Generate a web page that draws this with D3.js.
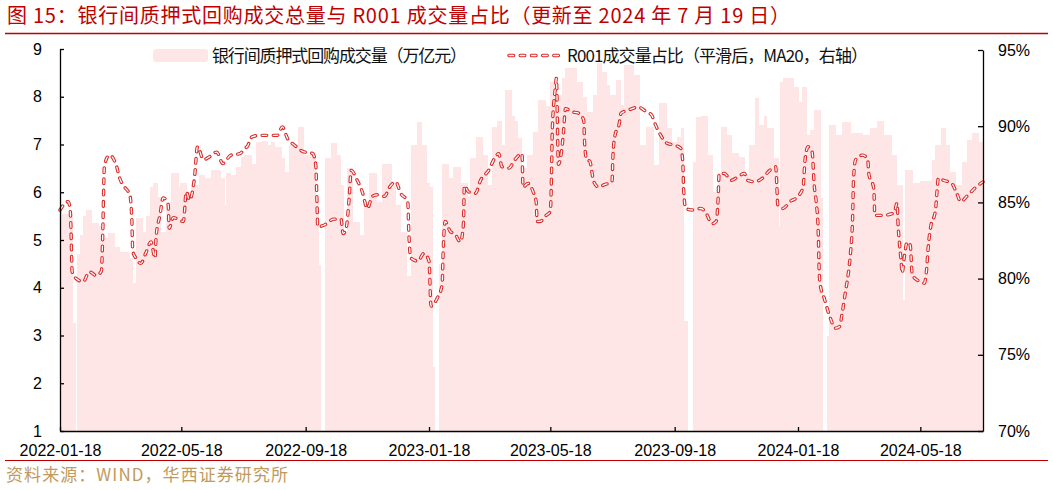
<!DOCTYPE html>
<html><head><meta charset="utf-8">
<script src="https://cdn.jsdelivr.net/npm/d3@7"></script>
<style>body{margin:0;background:#fff}svg{display:block}</style>
</head><body><svg id="c" width="1053" height="490"></svg>
<script>
// ---------- data ----------
const titleText = "图 15：银行间质押式回购成交总量与 R001 成交量占比（更新至 2024 年 7 月 19 日）";
const sourceText = "资料来源：WIND，华西证券研究所";
const seriesNames = ["银行间质押式回购成交量（万亿元）", "R001成交量占比（平滑后，MA20，右轴）"];

// bar segments: each bar lasts until the next date; null = no trading (holiday)
const barDates = ["2022-01-18","2022-01-20","2022-01-30","2022-02-02","2022-02-04","2022-02-07","2022-02-10","2022-02-13","2022-02-18","2022-02-25","2022-02-28","2022-03-06","2022-03-13","2022-03-18","2022-03-28","2022-03-31","2022-04-03","2022-04-10","2022-04-13","2022-04-17","2022-04-20","2022-04-25","2022-04-28","2022-05-02","2022-05-03","2022-05-08","2022-05-15","2022-05-17","2022-05-23","2022-05-28","2022-06-04","2022-06-10","2022-06-16","2022-06-26","2022-06-30","2022-07-01","2022-07-06","2022-07-11","2022-07-16","2022-07-19","2022-07-27","2022-07-31","2022-08-06","2022-08-11","2022-08-15","2022-08-18","2022-08-25","2022-08-28","2022-09-02","2022-09-10","2022-09-16","2022-09-23","2022-09-28","2022-10-01","2022-10-03","2022-10-07","2022-10-13","2022-10-19","2022-10-23","2022-10-26","2022-10-29","2022-11-03","2022-11-10","2022-11-15","2022-11-20","2022-11-27","2022-12-03","2022-12-12","2022-12-16","2022-12-21","2022-12-27","2022-12-31","2023-01-06","2023-01-11","2023-01-16","2023-01-19","2023-01-22","2023-01-24","2023-01-28","2023-01-31","2023-02-06","2023-02-11","2023-02-18","2023-02-25","2023-02-28","2023-03-05","2023-03-12","2023-03-17","2023-03-21","2023-03-26","2023-03-31","2023-04-03","2023-04-10","2023-04-13","2023-04-16","2023-04-20","2023-04-25","2023-04-30","2023-05-01","2023-05-06","2023-05-13","2023-05-18","2023-05-23","2023-05-30","2023-06-02","2023-06-13","2023-06-19","2023-06-23","2023-06-29","2023-07-03","2023-07-08","2023-07-13","2023-07-16","2023-07-22","2023-07-27","2023-07-30","2023-08-08","2023-08-14","2023-08-21","2023-08-28","2023-09-03","2023-09-10","2023-09-15","2023-09-20","2023-09-24","2023-09-27","2023-10-01","2023-10-06","2023-10-09","2023-10-14","2023-10-21","2023-10-26","2023-10-31","2023-11-03","2023-11-08","2023-11-13","2023-11-20","2023-11-26","2023-12-01","2023-12-06","2023-12-10","2023-12-15","2023-12-18","2023-12-25","2023-12-30","2023-12-31","2024-01-03","2024-01-14","2024-01-19","2024-01-22","2024-01-27","2024-01-30","2024-02-03","2024-02-09","2024-02-11","2024-02-16","2024-02-18","2024-02-24","2024-03-02","2024-03-10","2024-03-22","2024-03-29","2024-04-05","2024-04-12","2024-04-20","2024-04-25","2024-04-30","2024-05-03","2024-05-10","2024-05-18","2024-05-30","2024-06-02","2024-06-07","2024-06-12","2024-06-16","2024-06-22","2024-06-28","2024-07-03","2024-07-08","2024-07-15"];
const barValues = [5.7,5.55,3.26,null,4.7,5.1,5.5,5.63,5.35,5.3,5.05,5.15,4.85,4.75,4.62,4.1,5.46,5.17,5.5,6.1,6.2,5.9,5.17,null,5.8,6.4,6.1,6.2,5.95,6.15,6.36,6.3,6.47,6.3,5.73,6.4,6.36,6.53,6.74,6.78,6.6,7.05,7.07,7.0,7.05,6.95,6.72,6.43,7.0,7.37,6.78,6.85,5.8,4.48,null,6.72,7.03,6.78,6.15,5.17,6.5,5.38,5.1,5.8,6.4,5.8,6.6,6.15,5.73,5.17,4.25,7.0,7.47,7.0,6.2,6.1,2.35,null,4.5,6.6,6.3,6.53,6.2,5.9,6.72,7.16,6.78,6.15,7.37,7.5,7.0,8.14,7.6,7.5,7.13,6.5,6.78,3.7,7.26,7.93,7.8,8.3,8.04,8.4,8.6,8.3,8.0,7.68,8.04,8.7,8.52,8.25,8.04,8.35,7.83,8.67,8.46,7.0,7.37,6.57,7.87,7.35,7.05,7.16,7.35,3.3,null,6.63,7.58,7.6,6.78,6.0,6.4,7.37,7.2,6.82,6.74,6.36,7.0,7.97,7.4,7.6,7.35,6.72,5.3,8.3,8.4,8.2,7.9,8.2,7.2,7.3,7.72,5.88,null,3.0,7.4,7.2,7.47,7.24,7.2,7.35,7.5,7.2,6.78,6.15,3.75,6.47,6.2,6.23,6.67,7.0,7.35,7.0,6.43,6.15,6.63,7.1,7.24,7.05];

const lineDates = ["2022-01-18","2022-01-26","2022-01-28","2022-01-29","2022-01-30","2022-02-03","2022-02-10","2022-02-16","2022-02-23","2022-02-28","2022-03-01","2022-03-03","2022-03-08","2022-03-15","2022-03-18","2022-03-23","2022-03-28","2022-03-30","2022-03-31","2022-04-03","2022-04-08","2022-04-13","2022-04-18","2022-04-22","2022-04-23","2022-04-27","2022-04-30","2022-05-05","2022-05-06","2022-05-10","2022-05-20","2022-05-23","2022-05-26","2022-05-31","2022-06-03","2022-06-09","2022-06-15","2022-06-22","2022-06-28","2022-07-06","2022-07-15","2022-07-20","2022-07-22","2022-07-27","2022-08-03","2022-08-13","2022-08-21","2022-08-26","2022-08-31","2022-09-07","2022-09-15","2022-09-25","2022-09-28","2022-09-29","2022-09-30","2022-10-06","2022-10-16","2022-10-23","2022-10-25","2022-10-28","2022-10-31","2022-11-02","2022-11-08","2022-11-13","2022-11-18","2022-11-23","2022-11-28","2022-12-05","2022-12-10","2022-12-16","2022-12-21","2022-12-28","2022-12-29","2022-12-31","2023-01-07","2023-01-13","2023-01-18","2023-01-20","2023-01-26","2023-01-31","2023-02-01","2023-02-03","2023-02-08","2023-02-13","2023-02-18","2023-02-21","2023-02-22","2023-02-26","2023-03-05","2023-03-10","2023-03-18","2023-03-24","2023-03-28","2023-03-31","2023-04-07","2023-04-13","2023-04-20","2023-04-21","2023-04-26","2023-05-01","2023-05-04","2023-05-05","2023-05-08","2023-05-13","2023-05-18","2023-05-19","2023-05-20","2023-05-23","2023-05-24","2023-05-26","2023-05-29","2023-05-31","2023-06-02","2023-06-08","2023-06-15","2023-06-20","2023-06-21","2023-06-23","2023-06-26","2023-06-30","2023-07-05","2023-07-10","2023-07-18","2023-07-19","2023-07-21","2023-07-25","2023-07-27","2023-08-03","2023-08-13","2023-08-21","2023-08-26","2023-08-30","2023-09-03","2023-09-10","2023-09-18","2023-09-24","2023-09-26","2023-09-27","2023-09-29","2023-10-06","2023-10-14","2023-10-19","2023-10-25","2023-10-29","2023-10-31","2023-11-01","2023-11-06","2023-11-13","2023-11-20","2023-11-26","2023-11-29","2023-12-06","2023-12-14","2023-12-21","2023-12-27","2023-12-28","2023-12-29","2024-01-03","2024-01-10","2024-01-18","2024-01-23","2024-01-25","2024-01-28","2024-02-01","2024-02-03","2024-02-05","2024-02-07","2024-02-08","2024-02-09","2024-02-13","2024-02-19","2024-02-24","2024-02-28","2024-03-02","2024-03-05","2024-03-08","2024-03-10","2024-03-12","2024-03-13","2024-03-15","2024-03-22","2024-03-27","2024-03-28","2024-04-02","2024-04-03","2024-04-10","2024-04-22","2024-04-25","2024-04-26","2024-04-27","2024-04-29","2024-04-30","2024-05-02","2024-05-05","2024-05-08","2024-05-10","2024-05-15","2024-05-22","2024-05-24","2024-05-26","2024-05-28","2024-06-02","2024-06-05","2024-06-10","2024-06-18","2024-06-23","2024-06-27","2024-07-03","2024-07-12","2024-07-19"];
const lineValues = [84.5,85.05,84.6,82.9,80.45,80.0,79.8,80.45,80.2,80.5,82.2,87.45,88.1,87.35,86.6,86.0,85.5,84.0,81.8,81.35,81.0,81.7,82.4,81.35,82.7,84.2,85.3,84.85,83.3,84.0,83.75,85.7,85.15,86.6,88.65,87.8,88.0,88.3,87.55,88.1,88.2,88.55,88.65,89.3,89.4,89.4,89.4,89.95,89.2,88.75,88.35,88.2,87.45,85.5,83.4,83.5,83.9,83.9,82.95,83.3,85.25,87.1,86.45,85.7,84.6,85.4,85.5,85.4,86.0,86.35,85.6,85.05,83.1,81.35,81.15,81.65,81.15,78.2,78.7,79.6,81.75,83.75,83.1,82.9,82.4,83.5,86.1,85.7,85.6,86.45,87.1,87.9,88.2,87.35,87.25,87.8,88.2,86.0,86.25,85.7,85.05,83.75,83.75,84.1,84.4,86.15,89.85,92.5,93.15,87.5,88.3,89.6,91.15,90.95,90.85,90.4,88.8,87.8,87.7,86.35,86.0,86.15,86.35,88.1,89.4,90.1,90.85,91.05,91.25,90.95,90.75,90.1,89.55,88.9,88.75,88.55,87.7,85.7,84.6,84.5,84.6,84.3,83.6,83.75,85.25,86.9,86.9,86.45,86.7,86.9,86.45,86.35,86.6,87.1,87.35,86.15,84.85,84.6,85.05,85.4,86.0,87.8,88.65,88.3,86.15,85.05,83.1,80.45,79.6,78.7,77.4,76.75,76.85,77.85,79.15,80.45,81.75,83.95,86.6,87.8,88.1,87.8,86.9,85.9,84.15,84.15,84.3,84.95,83.5,82.6,81.15,80.35,81.35,82.4,82.2,80.25,79.9,79.7,80.45,82.2,83.3,84.5,86.6,86.45,86.25,85.6,85.05,85.4,86.0,86.35];

const leftTicks = [1,2,3,4,5,6,7,8,9];
const rightTicks = [70,75,80,85,90,95];
const xTickLabels = ["2022-01-18","2022-05-18","2022-09-18","2023-01-18","2023-05-18","2023-09-18","2024-01-18","2024-05-18"];
const xDomain = ["2022-01-18","2024-07-19"];

// ---------- drawing ----------
const parse = d3.utcParse("%Y-%m-%d");
const svg = d3.select("#c");
const m = {l:60, r:983, t:49, b:431};
const cjk = "'Noto Sans CJK SC','Noto Sans',sans-serif";
const lat = "'Liberation Sans',Arial,sans-serif";
const red = "#c00000";

const x = d3.scaleUtc().domain(xDomain.map(parse)).range([m.l, m.r]);
const yL = d3.scaleLinear().domain([1,9]).range([m.b, m.t]);
const yR = d3.scaleLinear().domain([70,95]).range([m.b, m.t+1]);

// title
svg.append("text").attr("x",7).attr("y",23).attr("fill",red)
  .attr("font-family",cjk).attr("font-size",20)
  .attr("textLength",783).attr("lengthAdjust","spacing").text(titleText);
svg.append("line").attr("x1",5).attr("x2",1048).attr("y1",33.5).attr("y2",33.5)
  .attr("stroke",red).attr("stroke-width",1.6);

// bars
const barColor = "#ffe6e6";
const gBars = svg.append("g").attr("shape-rendering","crispEdges");
barDates.forEach((d,i)=>{
  const v = barValues[i];
  if (v == null) return;
  const x0 = x(parse(d));
  const x1 = i+1 < barDates.length ? x(parse(barDates[i+1])) : m.r;
  gBars.append("rect").attr("x",x0).attr("width",Math.max(0.5,x1-x0+0.4))
    .attr("y",yL(v)).attr("height",yL(1)-yL(v)).attr("fill",barColor);
});

// line (double dashed)
const pts = lineDates.map((d,i)=>({d:parse(d), v:lineValues[i]}));
const line = d3.line().x(p=>x(p.d)).y(p=>yR(p.v)).curve(d3.curveMonotoneX);
const lineRed = "#d92a2a";
function dashed(sel){
  sel.append("path").attr("fill","none").attr("stroke",lineRed).attr("stroke-width",3.4)
    .attr("stroke-dasharray","4.6 6.6").attr("stroke-linecap","round").attr("stroke-linejoin","round");
  sel.append("path").attr("fill","none").attr("stroke","#fff").attr("stroke-width",1.3)
    .attr("stroke-dasharray","4.6 6.6").attr("stroke-linecap","round").attr("stroke-linejoin","round");
}
const gLine = svg.append("g");
dashed(gLine);
gLine.selectAll("path").attr("d", line(pts));

// axes
function styleAxis(g){
  g.selectAll(".domain").attr("stroke","#000").attr("stroke-width",1.3);
  g.selectAll(".tick line").attr("stroke","#000").attr("stroke-width",1.3);
  g.selectAll("text").attr("font-family",lat).attr("font-size",16).attr("fill","#000");
}
const axL = svg.append("g").attr("transform",`translate(${m.l},0)`)
  .call(d3.axisLeft(yL).tickValues(leftTicks).tickSizeInner(-4).tickSizeOuter(0).tickPadding(18).tickFormat(d3.format("d")));
styleAxis(axL);
const axR = svg.append("g").attr("transform",`translate(${m.r},0)`)
  .call(d3.axisRight(yR).tickValues(rightTicks).tickSizeInner(-5).tickSizeOuter(0).tickPadding(15).tickFormat(d=>d+"%"));
styleAxis(axR);
const axB = svg.append("g").attr("transform",`translate(0,${m.b})`)
  .call(d3.axisBottom(x).tickValues(xTickLabels.map(parse)).tickSizeInner(-4).tickSizeOuter(0).tickPadding(14).tickFormat(d3.utcFormat("%Y-%m-%d")));
styleAxis(axB);

// legend
svg.append("rect").attr("x",153).attr("y",49).attr("width",55).attr("height",13).attr("rx",3)
  .attr("fill",barColor);
svg.append("text").attr("x",212).attr("y",62).attr("font-family",cjk).attr("font-size",17)
  .attr("fill","#111").attr("textLength",255).attr("lengthAdjust","spacing").text(seriesNames[0]);
const gLeg = svg.append("g");
dashed(gLeg);
gLeg.selectAll("path").attr("d","M509,55.5L560,55.5");
svg.append("text").attr("x",567).attr("y",62).attr("font-family",cjk).attr("font-size",17)
  .attr("fill","#111").attr("textLength",301).attr("lengthAdjust","spacing").text(seriesNames[1]);

// footer
svg.append("line").attr("x1",5).attr("x2",1048).attr("y1",460.5).attr("y2",460.5)
  .attr("stroke",red).attr("stroke-width",1.2);
svg.append("text").attr("x",6).attr("y",481).attr("fill","#bf9a5e")
  .attr("font-family",cjk).attr("font-size",17)
  .attr("textLength",282).attr("lengthAdjust","spacing").text(sourceText);
</script></body></html>
